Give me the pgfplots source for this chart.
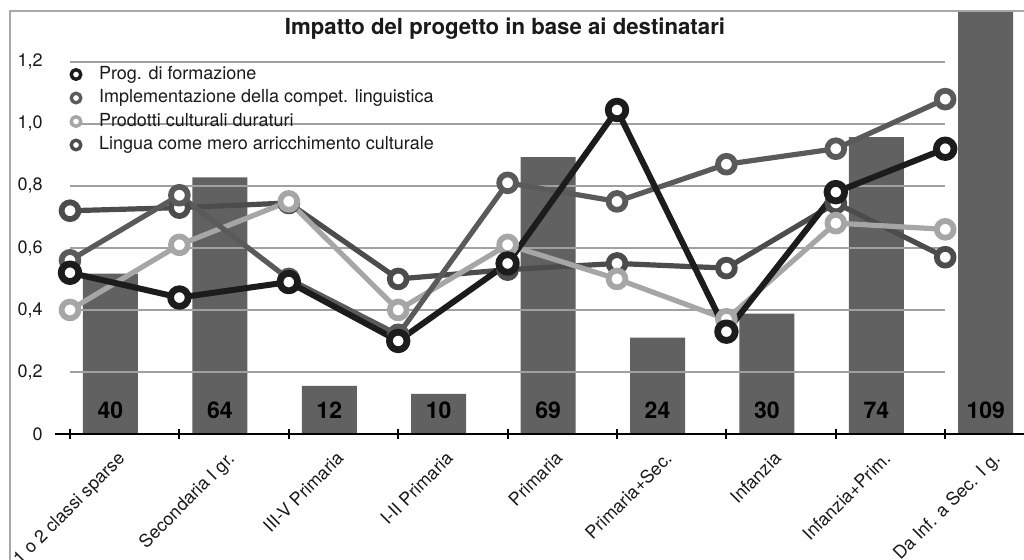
\documentclass[border=0pt]{standalone}
\usepackage{pgfplots}
\usepackage{pgfplotstable}
\pgfplotsset{compat=1.18}
\usepackage{fontspec}
\setmainfont{TeX Gyre Heros}
\definecolor{cProg}{HTML}{1C1C1C}
\definecolor{cImpl}{HTML}{5A5A5A}
\definecolor{cProd}{HTML}{A6A6A6}
\definecolor{cLing}{HTML}{4C4C4C}
\definecolor{cBar}{HTML}{616161}
\definecolor{cGrid}{HTML}{A0A0A0}
\definecolor{cFrame}{HTML}{A8A8A8}
\definecolor{cText}{HTML}{1A1A1A}

\pgfplotstableread{
x prog impl prod ling
0 0.52 0.56 0.40 0.72
1 0.44 0.77 0.61 0.73
2 0.49 0.50 0.75 0.745
3 0.30 0.32 0.40 0.50
4 0.55 0.81 0.61 0.53
5 1.045 0.75 0.50 0.55
6 0.33 0.87 0.37 0.535
7 0.78 0.92 0.68 0.745
8 0.92 1.08 0.66 0.57
}\linedata

\pgfplotstableread{
x n ly
0.37 40 6
1.37 64 6
2.37 12 6
3.37 10 6
4.37 69 6
5.37 24 6
6.37 30 6
7.37 74 6
8.37 109 6
}\bardata

\newcommand{\lab}{\fontsize{9}{10}\selectfont}

\begin{document}
\begin{tikzpicture}
\useasboundingbox (0,0) rectangle (512pt,280pt);
\clip (0,0) rectangle (512pt,280pt);
\fill[white] (0,0) rectangle (512pt,280pt);

% bars (secondary scale)
\begin{axis}[
  at={(27.5pt,63pt)}, anchor=south west,
  scale only axis, width=484.5pt, height=211pt,
  xmin=-0.137, xmax=8.72, ymin=0, ymax=105.2,
  hide axis,
]
\addplot[ybar, bar width=27.5pt, bar shift=0pt, fill=cBar, draw=none] table[x=x,y=n] {\bardata};
\addplot[only marks, mark=none, nodes near coords, point meta=explicit symbolic,
  nodes near coords style={font=\bfseries\fontsize{11.5}{12}\selectfont, anchor=center, text=black}]
  table[x=x, y=ly, meta=n] {\bardata};
\end{axis}

% lines (primary scale)
\begin{axis}[
  at={(27.5pt,63pt)}, anchor=south west,
  scale only axis, width=484.5pt, height=211pt,
  xmin=-0.137, xmax=8.72, ymin=0, ymax=1.361,
  axis x line*=bottom, axis y line*=left,
  x axis line style={black, line width=1pt, -},
  y axis line style={draw=none},
  xtick={0,1,2,3,4,5,6,7,8}, xticklabels={},
  xtick align=center, major tick length=5pt,
  xtick style={black, line width=1pt},
  ytick={0,0.2,0.4,0.6,0.8,1.0,1.2},
  ytick style={draw=none},
  yticklabels={0,\mbox{0,2},\mbox{0,4},\mbox{0,6},\mbox{0,8},\mbox{1,0},\mbox{1,2}},
  yticklabel style={font=\lab, text=cText, anchor=east, inner sep=0pt, xshift=-6pt},
  clip=false,
  reverse legend,
  legend cell align=left,
  legend style={at={(rel axis cs:0.0155,0.872)}, anchor=north west, draw=none, fill=none,
    inner sep=0pt, outer sep=0pt, font=\lab, text=cText,
    nodes={inner sep=0pt, text height=6.5pt, text depth=2pt},
    row sep=3.25pt, column sep=0pt},
  legend image code/.code={
    \path[draw=none, fill=none] (-3pt,-3pt) (11.5pt,3pt);
    \draw[#1, mark size=2.4pt, mark options={fill=white, line width=1.7pt, solid}] plot coordinates {(0pt,0pt)};
  },
]
\pgfplotsinvokeforeach{0.2,0.4,0.6,0.8,1.0,1.2}{
  \draw[cGrid, line width=0.8pt] (axis cs:0,#1) -- (axis cs:8,#1);
}
\addplot[cLing, line width=2.6pt, line join=round, mark=*, mark size=4.2pt,
  mark options={fill=white, line width=2.9pt}] table[x=x,y=ling] {\linedata};
\addlegendentry{Lingua come mero arricchimento culturale}
\addplot[cProd, line width=2.6pt, line join=round, mark=*, mark size=4.2pt,
  mark options={fill=white, line width=2.9pt}] table[x=x,y=prod] {\linedata};
\addlegendentry{Prodotti culturali duraturi}
\addplot[cImpl, line width=2.6pt, line join=round, mark=*, mark size=4.2pt,
  mark options={fill=white, line width=2.9pt}] table[x=x,y=impl] {\linedata};
\addlegendentry{Implementazione della compet. linguistica}
\addplot[cProg, line width=3pt, line join=round, mark=*, mark size=4.4pt,
  mark options={fill=white, line width=3.4pt}] table[x=x,y=prog] {\linedata};
\addlegendentry{Prog. di formazione}

\node[anchor=north east, rotate=45, inner sep=0pt, font=\lab, text=cText] at ([yshift=-8pt]axis cs:0.425,0) {1 o 2 classi sparse};
\node[anchor=north east, rotate=45, inner sep=0pt, font=\lab, text=cText] at ([yshift=-8pt]axis cs:1.425,0) {Secondaria I gr.};
\node[anchor=north east, rotate=45, inner sep=0pt, font=\lab, text=cText] at ([yshift=-8pt]axis cs:2.425,0) {III-V Primaria};
\node[anchor=north east, rotate=45, inner sep=0pt, font=\lab, text=cText] at ([yshift=-8pt]axis cs:3.425,0) {I-II Primaria};
\node[anchor=north east, rotate=45, inner sep=0pt, font=\lab, text=cText] at ([yshift=-8pt]axis cs:4.425,0) {Primaria};
\node[anchor=north east, rotate=45, inner sep=0pt, font=\lab, text=cText] at ([yshift=-8pt]axis cs:5.425,0) {Primaria+Sec.};
\node[anchor=north east, rotate=45, inner sep=0pt, font=\lab, text=cText] at ([yshift=-8pt]axis cs:6.425,0) {Infanzia};
\node[anchor=north east, rotate=45, inner sep=0pt, font=\lab, text=cText] at ([yshift=-8pt]axis cs:7.425,0) {Infanzia+Prim.};
\node[anchor=north east, rotate=45, inner sep=0pt, font=\lab, text=cText] at ([yshift=-8pt]axis cs:8.425,0) {Da Inf. a Sec. I g.};
\end{axis}

\draw[cFrame, line width=1pt] (5pt,0) -- (5pt,274.5pt) -- (512pt,274.5pt);
\node[anchor=base, font=\bfseries\fontsize{11.1}{13}\selectfont, text=cText] at (252.5pt,262.5pt) {Impatto del progetto in base ai destinatari};
\end{tikzpicture}
\end{document}
